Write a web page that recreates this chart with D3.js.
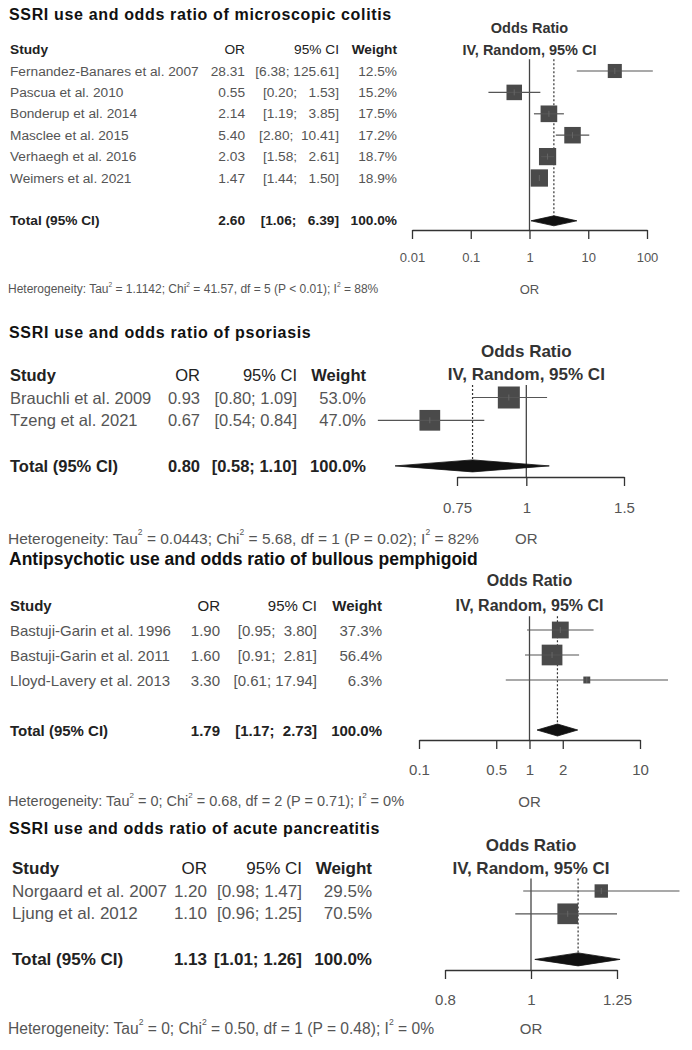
<!DOCTYPE html>
<html><head><meta charset="utf-8">
<script src="https://cdn.jsdelivr.net/npm/d3@7"></script>
<style>
html,body{margin:0;padding:0;background:#fff;}
svg{display:block;font-family:"Liberation Sans",Arial,sans-serif;}
</style></head>
<body>
<svg id="chart" width="692" height="1050"></svg>
<script>
// ---------- DATA ----------
// Panel 1: SSRI / microscopic colitis
const p1Title = "SSRI use and odds ratio of microscopic colitis";
const p1Studies = ["Fernandez-Banares et al. 2007","Pascua et al. 2010","Bonderup et al. 2014","Masclee et al. 2015","Verhaegh et al. 2016","Weimers et al. 2021"];
const p1OR = [28.31,0.55,2.14,5.40,2.03,1.47];
const p1Lower = [6.38,0.20,1.19,2.80,1.58,1.44];
const p1Upper = [125.61,1.53,3.85,10.41,2.61,1.50];
const p1Weight = [12.5,15.2,17.5,17.2,18.7,18.9];
const p1Total = [2.60,1.06,6.39];
const p1Ticks = [0.01,0.1,1,10,100];
const p1TickLabels = ["0.01","0.1","1","10","100"];
const p1Het = ["1.1142","41.57","5","P < 0.01","88%"];

// Panel 2: SSRI / psoriasis
const p2Title = "SSRI use and odds ratio of psoriasis";
const p2Studies = ["Brauchli et al. 2009","Tzeng et al. 2021"];
const p2OR = [0.93,0.67];
const p2Lower = [0.80,0.54];
const p2Upper = [1.09,0.84];
const p2Weight = [53.0,47.0];
const p2Total = [0.80,0.58,1.10];
const p2Ticks = [0.75,1,1.5];
const p2TickLabels = ["0.75","1","1.5"];
const p2Het = ["0.0443","5.68","1","P = 0.02","82%"];

// Panel 3: Antipsychotic / bullous pemphigoid
const p3Title = "Antipsychotic use and odds ratio of bullous pemphigoid";
const p3Studies = ["Bastuji-Garin et al. 1996","Bastuji-Garin et al. 2011","Lloyd-Lavery et al. 2013"];
const p3OR = [1.90,1.60,3.30];
const p3Lower = [0.95,0.91,0.61];
const p3Upper = [3.80,2.81,17.94];
const p3Weight = [37.3,56.4,6.3];
const p3Total = [1.79,1.17,2.73];
const p3Ticks = [0.1,0.5,1,2,10];
const p3TickLabels = ["0.1","0.5","1","2","10"];
const p3Het = ["0","0.68","2","P = 0.71","0%"];

// Panel 4: SSRI / acute pancreatitis
const p4Title = "SSRI use and odds ratio of acute pancreatitis";
const p4Studies = ["Norgaard et al. 2007","Ljung et al. 2012"];
const p4OR = [1.20,1.10];
const p4Lower = [0.98,0.96];
const p4Upper = [1.47,1.25];
const p4Weight = [29.5,70.5];
const p4Total = [1.13,1.01,1.26];
const p4Ticks = [0.8,1,1.25];
const p4TickLabels = ["0.8","1","1.25"];
const p4Het = ["0","0.50","1","P = 0.48","0%"];

// ---------- LAYOUT (styles / positions) ----------
const panels = [
  {title:p1Title, studies:p1Studies, or:p1OR, lo:p1Lower, hi:p1Upper, w:p1Weight, total:p1Total, ticks:p1Ticks, tickLabels:p1TickLabels, het:p1Het,
   titleY:14, titleFs:16, titleLs:0.65, fs:13.7, hdrFs:14.5, row0:71, rowH:21.4, axisY:230, tickFs:13, tickPad:14,
   hetY:289, hetFs:12, orFs:13, cols:[10,245,339,397], range:[412,647], sqMax:17.3, dh:5},
  {title:p2Title, studies:p2Studies, or:p2OR, lo:p2Lower, hi:p2Upper, w:p2Weight, total:p2Total, ticks:p2Ticks, tickLabels:p2TickLabels, het:p2Het,
   titleY:332, titleFs:16, titleLs:0.67, fs:16.5, hdrFs:17, row0:397.5, rowH:22.8, axisY:477, tickFs:15, tickPad:16,
   hetY:538, hetFs:15.5, orFs:15, cols:[10,200,297,366], range:[457,624], sqMax:22, dh:6},
  {title:p3Title, studies:p3Studies, or:p3OR, lo:p3Lower, hi:p3Upper, w:p3Weight, total:p3Total, ticks:p3Ticks, tickLabels:p3TickLabels, het:p3Het,
   titleY:559, titleFs:17.5, titleLs:0, fs:15, hdrFs:16, row0:630, rowH:25, axisY:740, tickFs:15, tickPad:15.5,
   hetY:801, hetFs:14.5, orFs:15, cols:[10,220,317,382], range:[419,640], sqMax:20.7, dh:6},
  {title:p4Title, studies:p4Studies, or:p4OR, lo:p4Lower, hi:p4Upper, w:p4Weight, total:p4Total, ticks:p4Ticks, tickLabels:p4TickLabels, het:p4Het,
   titleY:828, titleFs:16, titleLs:0.6, fs:17, hdrFs:17, row0:891, rowH:22.8, axisY:970, tickFs:15, tickPad:15.5,
   hetY:1028, hetFs:15.6, orFs:15, cols:[12,207,302,372], range:[445,617], sqMax:20.7, dh:6.5}
];

const svg = d3.select("#chart");
const fmt2 = d3.format(".2f");
const fmtW = d => d3.format(".1f")(d) + "%";

panels.forEach(p => {
  const g = svg.append("g");
  const n = p.studies.length;
  const x = d3.scaleLog().domain([p.ticks[0], p.ticks[p.ticks.length-1]]).range(p.range);
  const yRow = i => p.row0 + i * p.rowH;
  const yHdr = p.row0 - p.rowH;
  const yOdds = p.row0 - 2 * p.rowH;
  const yTot = yRow(n + 1);
  const sq = d3.scaleSqrt().domain([0, d3.max(p.w)]).range([0, p.sqMax]);

  // padded CI strings
  const loStr = p.lo.map(fmt2).concat([fmt2(p.total[1])]);
  const hiStr = p.hi.map(fmt2).concat([fmt2(p.total[2])]);
  const loW = d3.max(loStr, s => s.length), hiW = d3.max(hiStr, s => s.length);
  const ciStr = loStr.map((l, i) => "[" + l.padStart(loW, " ") + "; " + hiStr[i].padStart(hiW, " ") + "]");

  // title
  g.append("text").attr("x", 9).attr("y", p.titleY).attr("dominant-baseline", "central")
    .attr("font-size", p.titleFs).attr("font-weight", "bold").attr("letter-spacing", p.titleLs)
    .attr("fill", "#111").text(p.title);

  // column headers
  const cx = (p.range[0] + p.range[1]) / 2;
  const c1 = x(1);
  g.append("text").attr("x", c1).attr("y", yOdds).attr("text-anchor", "middle").attr("dominant-baseline", "central")
    .attr("font-size", p.hdrFs).attr("font-weight", "bold").attr("fill", "#333").text("Odds Ratio");
  g.append("text").attr("x", c1).attr("y", yHdr).attr("text-anchor", "middle").attr("dominant-baseline", "central")
    .attr("font-size", p.hdrFs).attr("font-weight", "bold").attr("fill", "#333").text("IV, Random, 95% CI");

  const hdr = [["Study", p.cols[0], "start", "bold"], ["OR", p.cols[1], "end", "normal"], ["95% CI", p.cols[2], "end", "normal"], ["Weight", p.cols[3], "end", "bold"]];
  hdr.forEach(h => {
    g.append("text").attr("x", h[1]).attr("y", yHdr).attr("text-anchor", h[2]).attr("dominant-baseline", "central")
      .attr("font-size", p.fs).attr("font-weight", h[3]).attr("fill", "#222").text(h[0]);
  });

  // study rows text
  p.studies.forEach((s, i) => {
    const cells = [[s, p.cols[0], "start"], [fmt2(p.or[i]), p.cols[1], "end"], [ciStr[i], p.cols[2], "end"], [fmtW(p.w[i]), p.cols[3], "end"]];
    cells.forEach(c => {
      g.append("text").attr("x", c[1]).attr("y", yRow(i)).attr("text-anchor", c[2]).attr("dominant-baseline", "central")
        .attr("xml:space", "preserve").style("white-space", "pre")
        .attr("font-size", p.fs).attr("fill", "#555").text(c[0]);
    });
  });
  // total row text
  const tcells = [["Total (95% CI)", p.cols[0], "start"], [fmt2(p.total[0]), p.cols[1], "end"], [ciStr[n], p.cols[2], "end"], ["100.0%", p.cols[3], "end"]];
  tcells.forEach(c => {
    g.append("text").attr("x", c[1]).attr("y", yTot).attr("text-anchor", c[2]).attr("dominant-baseline", "central")
      .attr("xml:space", "preserve").style("white-space", "pre")
      .attr("font-size", p.fs).attr("font-weight", "bold").attr("fill", "#222").text(c[0]);
  });

  // reference line at 1
  const top = p.row0 - p.rowH * 0.55;
  g.append("line").attr("x1", x(1)).attr("x2", x(1)).attr("y1", top).attr("y2", p.axisY)
    .attr("stroke", "#444").attr("stroke-width", 1.3);
  // dotted summary line
  g.append("line").attr("x1", x(p.total[0])).attr("x2", x(p.total[0])).attr("y1", top).attr("y2", yTot - p.dh)
    .attr("stroke", "#333").attr("stroke-width", 1.2).attr("stroke-dasharray", "2,2");

  // squares + CI
  p.studies.forEach((s, i) => {
    const y = yRow(i), side = sq(p.w[i]);
    g.append("rect").attr("x", x(p.or[i]) - side / 2).attr("y", y - side / 2).attr("width", side).attr("height", side)
      .attr("fill", "#4a4a4a");
    g.append("line").attr("x1", x(p.lo[i])).attr("x2", x(p.hi[i])).attr("y1", y).attr("y2", y)
      .attr("stroke", "#555").attr("stroke-width", 1.2);
    g.append("line").attr("x1", x(p.or[i])).attr("x2", x(p.or[i])).attr("y1", y - 3).attr("y2", y + 3)
      .attr("stroke", "#666").attr("stroke-width", 1);
  });

  // diamond
  const t = p.total;
  g.append("path").attr("d", `M${x(t[1])},${yTot}L${x(t[0])},${yTot - p.dh}L${x(t[2])},${yTot}L${x(t[0])},${yTot + p.dh}Z`)
    .attr("fill", "#111").attr("stroke", "#111").attr("stroke-width", 0.8);

  // axis
  const ax = d3.axisBottom(x).tickValues(p.ticks).tickFormat((d, i) => p.tickLabels[i])
    .tickSize(9).tickSizeOuter(0).tickPadding(p.tickPad);
  const ag = g.append("g").attr("transform", `translate(0,${p.axisY})`).call(ax);
  ag.select(".domain").attr("stroke", "#333").attr("stroke-width", 1.3);
  ag.selectAll(".tick line").attr("stroke", "#333").attr("stroke-width", 1.3);
  ag.selectAll(".tick text").attr("font-size", p.tickFs).attr("fill", "#555")
    .attr("font-family", "Liberation Sans, Arial, sans-serif");

  // heterogeneity
  const ht = g.append("text").attr("x", 8).attr("y", p.hetY).attr("dominant-baseline", "central")
    .attr("font-size", p.hetFs).attr("fill", "#555");
  const supFs = p.hetFs * 0.55;
  const parts = [["Heterogeneity: Tau", 0], ["2", 1], [" = " + p.het[0] + "; Chi", 0], ["2", 1],
    [" = " + p.het[1] + ", df = " + p.het[2] + " (" + p.het[3] + "); I", 0], ["2", 1], [" = " + p.het[4], 0]];
  parts.forEach(pt => {
    const ts = ht.append("tspan").text(pt[0]);
    if (pt[1]) ts.attr("font-size", supFs).attr("dy", -p.hetFs * 0.4);
  });
  // need to restore baseline after superscripts
  ht.selectAll("tspan").each(function(d, i) {
    if (i > 0 && parts[i - 1][1] === 1) d3.select(this).attr("dy", p.hetFs * 0.4);
  });

  g.append("text").attr("x", x(1)).attr("y", p.hetY).attr("text-anchor", "middle").attr("dominant-baseline", "central")
    .attr("font-size", p.orFs).attr("fill", "#555").text("OR");
});
</script>
</body></html>
